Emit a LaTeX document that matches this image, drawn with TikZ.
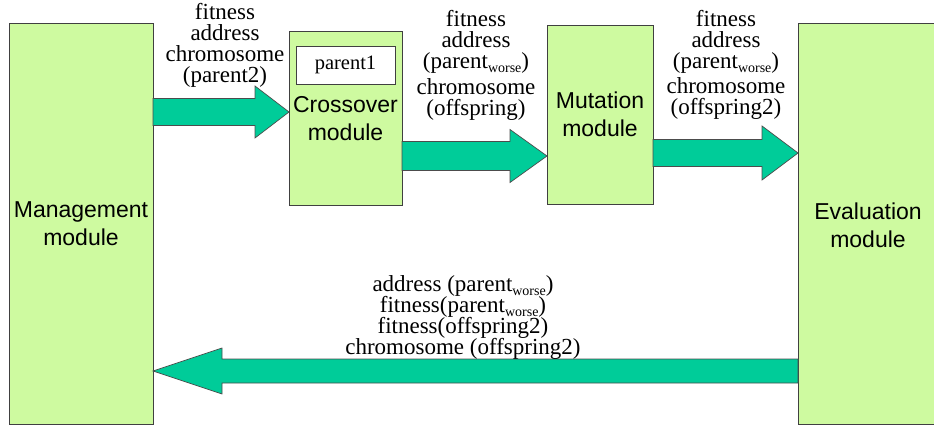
\documentclass[tikz,border=0pt]{standalone}
\usepackage{fontspec}
\setsansfont{Liberation Sans}
\newfontfamily\timesfont{Liberation Serif}
\usetikzlibrary{calc}
\definecolor{boxgreen}{RGB}{206,250,160}
\definecolor{arrowgreen}{RGB}{0,204,153}
\newcommand\wsub{\raisebox{-4pt}{\fontsize{14}{14}\selectfont worse}}
\newcommand\lblfont{\timesfont\fontsize{23}{21}\selectfont\lineskiplimit=-50pt}
\newcommand\boxfont{\sffamily\fontsize{23}{28}\selectfont}
% from, to, shaft half-width, head half-width, head length
\newcommand\blockarrow[5]{%
  \filldraw[blockarrowstyle]
    ($(#1)+(0,-#3)$) -- ($(#2)!#5!(#1)+(0,-#3)$) -- ($(#2)!#5!(#1)+(0,-#4)$)
    -- (#2) -- ($(#2)!#5!(#1)+(0,#4)$) -- ($(#2)!#5!(#1)+(0,#3)$)
    -- ($(#1)+(0,#3)$) -- cycle;}
\begin{document}
\begin{tikzpicture}[x=1pt,y=-1pt,
  module/.style={draw=black!75, line width=0.8pt, fill=boxgreen, anchor=north west,
    inner sep=0pt, outer sep=0pt, align=center, font=\boxfont},
  innerbox/.style={draw=black!75, line width=0.8pt, fill=white, anchor=north west,
    inner sep=0pt, outer sep=0pt, font=\timesfont\fontsize{20.5}{24}\selectfont},
  lbl/.style={align=center, font=\lblfont, inner sep=0pt},
  blockarrowstyle/.style={fill=arrowgreen, draw=black!70, line width=0.7pt, line join=miter}]
\useasboundingbox (0,0) rectangle (934,430);

\node[module, minimum width=144pt, minimum height=401pt] (mgmt) at (9,23) {Management\\module};
\node[module, minimum width=113pt, minimum height=174pt] (cross) at (289,31) {};
\node[innerbox, minimum width=99pt, minimum height=38pt] (p1) at (296,46) {parent1};
\node[align=center, font=\boxfont, inner sep=0pt] (crosstxt) at (345.5,119) {Crossover\\module};
\node[module, minimum width=106pt, minimum height=179pt] (mut) at (547,25) {Mutation\\module};
\node[module, minimum width=142pt, minimum height=401pt, text width=135pt] (evalbox) at (798,23) {};
\node[align=center, font=\boxfont, inner sep=0pt] (evaltxt) at (868,225) {Evaluation\\module};

\coordinate (a1s) at (mgmt.east |- 0,112);
\coordinate (a1e) at (cross.west |- 0,112);
\coordinate (a2s) at (cross.east |- 0,156);
\coordinate (a2e) at (mut.west |- 0,156);
\coordinate (a3s) at (mut.east |- 0,153);
\coordinate (a3e) at (evalbox.west |- 0,153);
\coordinate (a4s) at (evalbox.west |- 0,371);
\coordinate (a4e) at (mgmt.east |- 0,371);

\blockarrow{a1s}{a1e}{13.5}{26}{34pt}
\blockarrow{a2s}{a2e}{14.5}{26.5}{37pt}
\blockarrow{a3s}{a3e}{13.5}{27}{36pt}
\blockarrow{a4s}{a4e}{12}{23}{69pt}

\node[lbl] (l1) at (225,45) {fitness\\address\\chromosome\\(parent2)};
\node[lbl] (l2) at (476,65) {fitness\\address\\(parent\wsub)\\[5pt]chromosome\\(offspring)};
\node[lbl] (l3) at (726,65) {fitness\\address\\(parent\wsub)\\[4pt]chromosome\\(offspring2)};
\node[lbl] (l4) at (463,318) {address (parent\wsub)\\fitness(parent\wsub)\\fitness(offspring2)\\chromosome (offspring2)};
\end{tikzpicture}
\end{document}
